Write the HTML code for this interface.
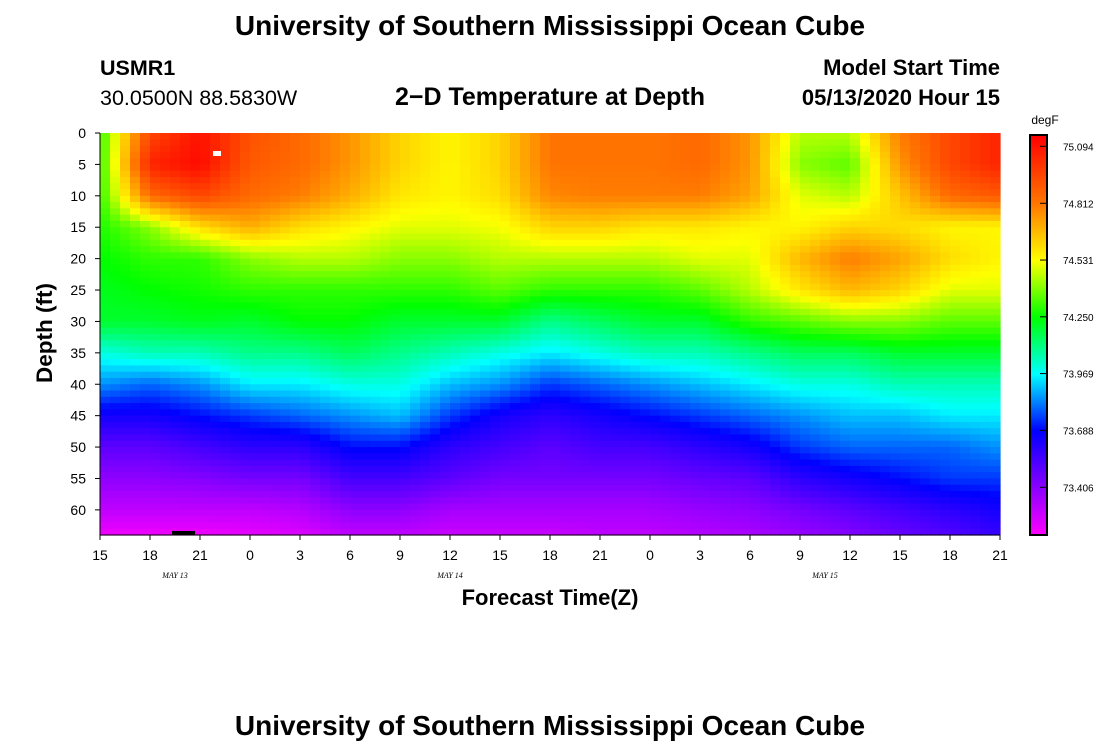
<!DOCTYPE html>
<html><head><meta charset="utf-8"><style>
body{margin:0;background:#fff;width:1100px;height:750px;overflow:hidden;font-family:"Liberation Sans",sans-serif}
</style></head><body>
<svg id="c" width="1100" height="750" xmlns="http://www.w3.org/2000/svg" font-family="Liberation Sans, sans-serif">
<text x="550" y="35" text-anchor="middle" font-size="28" font-weight="bold">University of Southern Mississippi Ocean Cube</text>
<text x="100" y="75" font-size="21.5" font-weight="bold">USMR1</text>
<text x="100" y="105" font-size="21.5">30.0500N 88.5830W</text>
<text x="550" y="105" text-anchor="middle" font-size="25" font-weight="bold">2−D Temperature at Depth</text>
<text x="1000" y="75" text-anchor="end" font-size="22" font-weight="bold">Model Start Time</text>
<text x="1000" y="105" text-anchor="end" font-size="22" font-weight="bold">05/13/2020 Hour 15</text>
<text transform="translate(52,333) rotate(-90)" text-anchor="middle" font-size="22.5" font-weight="bold">Depth (ft)</text>
<text x="550" y="605" text-anchor="middle" font-size="22" font-weight="bold">Forecast Time(Z)</text>
<text x="550" y="735" text-anchor="middle" font-size="28" font-weight="bold">University of Southern Mississippi Ocean Cube</text>
<text x="1045" y="124" text-anchor="middle" font-size="12">degF</text>
<g id="heat"></g>
<g id="axes"></g>
<g id="cbar"></g>
</svg>
<script>
const hours=[0,3,6,9,12,15,18,21,24,27,30,33,36,39,42,45,48,51,54];
const xTickLabels=["15","18","21","0","3","6","9","12","15","18","21","0","3","6","9","12","15","18","21"];
const depths=[0,5,10,15,20,25,30,35,40,45,50,55,60,64];
const yTickLabels=["0","5","10","15","20","25","30","35","40","45","50","55","60"];
const cbarLabels=["75.094","74.812","74.531","74.250","73.969","73.688","73.406"];
const cbarValues=[75.094,74.812,74.531,74.250,73.969,73.688,73.406];
// temperature (degF): one array per forecast hour column, values by depth
const t00=[74.30,74.30,74.30,74.28,74.25,74.22,74.20,74.00,73.85,73.65,73.50,73.40,73.30,73.20];
const t03=[74.95,75.05,74.85,74.40,74.30,74.25,74.20,74.05,73.80,73.65,73.50,73.40,73.30,73.20];
const t06=[75.10,75.12,74.95,74.60,74.30,74.27,74.22,74.05,73.85,73.70,73.55,73.42,73.30,73.20];
const t09=[74.92,74.90,74.85,74.70,74.40,74.30,74.20,74.10,73.95,73.75,73.60,73.45,73.30,73.22];
const t12=[74.85,74.85,74.80,74.60,74.45,74.30,74.25,74.10,73.95,73.80,73.60,73.45,73.32,73.24];
const t15=[74.75,74.75,74.70,74.55,74.45,74.30,74.25,74.15,74.00,73.85,73.70,73.55,73.40,73.30];
const t18=[74.62,74.62,74.58,74.50,74.40,74.30,74.20,74.10,74.00,73.90,73.70,73.55,73.40,73.30];
const t21=[74.55,74.55,74.55,74.50,74.40,74.30,74.20,74.05,73.90,73.75,73.60,73.50,73.35,73.28];
const t24=[74.62,74.62,74.60,74.52,74.45,74.35,74.20,74.00,73.85,73.65,73.55,73.45,73.35,73.28];
const t27=[74.82,74.82,74.78,74.62,74.45,74.30,74.10,73.95,73.75,73.60,73.50,73.45,73.35,73.28];
const t30=[74.82,74.82,74.80,74.62,74.45,74.30,74.15,74.00,73.80,73.65,73.55,73.45,73.35,73.30];
const t33=[74.82,74.82,74.80,74.58,74.45,74.30,74.20,74.05,73.85,73.70,73.55,73.45,73.35,73.30];
const t36=[74.85,74.85,74.80,74.58,74.50,74.35,74.20,74.05,73.90,73.75,73.60,73.48,73.38,73.32];
const t39=[74.75,74.75,74.72,74.55,74.50,74.45,74.30,74.10,73.95,73.80,73.65,73.50,73.40,73.34];
const t42=[74.45,74.40,74.50,74.55,74.68,74.58,74.35,74.15,74.00,73.85,73.75,73.60,73.45,73.38];
const t45=[74.45,74.35,74.45,74.62,74.80,74.68,74.40,74.15,74.00,73.90,73.80,73.65,73.50,73.42];
const t48=[74.80,74.75,74.65,74.60,74.72,74.62,74.40,74.20,74.05,73.90,73.80,73.70,73.55,73.48];
const t51=[74.95,74.95,74.85,74.55,74.60,74.50,74.35,74.20,74.05,73.95,73.80,73.75,73.60,73.52];
const t54=[75.05,75.05,74.90,74.55,74.55,74.50,74.35,74.20,74.05,73.95,73.85,73.75,73.65,73.58];
const temps=[t00,t03,t06,t09,t12,t15,t18,t21,t24,t27,t30,t33,t36,t39,t42,t45,t48,t51,t54];

const NS="http://www.w3.org/2000/svg";
const X0=100,X1=1000,Y0=133,Y1=535;
const xs=h=>X0+(h-hours[0])/(hours[hours.length-1]-hours[0])*(X1-X0);
const ys=d=>Y0+d/64*(Y1-Y0);
const vMin=73.17,vMax=75.15;
const cy=v=>535-(v-vMin)/(vMax-vMin)*400;
const anchorsV=[73.17,73.688,73.969,74.25,74.531,74.812,75.15];
const anchorsH=[300,240,180,120,60,28,0];
function color(v){
  if(v<=anchorsV[0])return "hsl(300,100%,50%)";
  for(let i=0;i<anchorsV.length-1;i++){
    if(v<=anchorsV[i+1]){const f=(v-anchorsV[i])/(anchorsV[i+1]-anchorsV[i]);
      return "hsl("+(anchorsH[i]+f*(anchorsH[i+1]-anchorsH[i])).toFixed(1)+",100%,50%)";}
  }
  return "hsl(0,100%,50%)";
}
function idx(arr,v){for(let i=0;i<arr.length-1;i++)if(v<=arr[i+1])return i;return arr.length-2;}
function sample(h,d){
  const i=idx(hours,h),j=idx(depths,d);
  const fx=(h-hours[i])/(hours[i+1]-hours[i]),fy=(d-depths[j])/(depths[j+1]-depths[j]);
  const a=temps[i][j],b=temps[i+1][j],c=temps[i][j+1],e=temps[i+1][j+1];
  return a*(1-fx)*(1-fy)+b*fx*(1-fy)+c*(1-fx)*fy+e*fx*fy;
}
const heat=document.getElementById('heat');
const NX=90,NY=64;
for(let a=0;a<NX;a++){
  const h0=hours[0]+(hours[hours.length-1]-hours[0])*a/NX, h1=hours[0]+(hours[hours.length-1]-hours[0])*(a+1)/NX;
  for(let b=0;b<NY;b++){
    const d0=64*b/NY,d1=64*(b+1)/NY;
    const r=document.createElementNS(NS,'rect');
    
    
    r.setAttribute('x',xs(h0).toFixed(2));r.setAttribute('y',ys(d0).toFixed(2));
    r.setAttribute('width',(xs(h1)-xs(h0)+0.6).toFixed(2));r.setAttribute('height',(ys(d1)-ys(d0)+0.6).toFixed(2));
    r.setAttribute('fill',color(sample((h0+h1)/2,(d0+d1)/2)));
    heat.appendChild(r);
  }
}
const axes=document.getElementById('axes');
function el(tag,attrs,parent,text){const e=document.createElementNS(NS,tag);for(const k in attrs)e.setAttribute(k,attrs[k]);if(text!==undefined)e.textContent=text;parent.appendChild(e);return e;}
const m1=el('rect',{x:213,y:151,width:8,height:5,fill:'#fff'},axes);


const m2=el('rect',{x:172,y:531,width:23,height:4,fill:'#000'},axes);


el('line',{x1:X0,y1:Y0,x2:X0,y2:Y1,stroke:'#000','stroke-width':1},axes);
el('line',{x1:X0,y1:Y1,x2:X1,y2:Y1,stroke:'#000','stroke-width':1},axes);
hours.forEach((h,i)=>{
  el('line',{x1:xs(h),y1:Y1,x2:xs(h),y2:Y1+5,stroke:'#000'},axes);
  const t=el('text',{x:xs(h),y:560,'text-anchor':'middle','font-size':14},axes,xTickLabels[i]);
  
  
});
yTickLabels.forEach(l=>{
  const d=+l;
  el('line',{x1:X0-5,y1:ys(d),x2:X0,y2:ys(d),stroke:'#000'},axes);
  const t=el('text',{x:86,y:ys(d)+5,'text-anchor':'end','font-size':14},axes,l);
  
  
});
[["MAY 13",175],["MAY 14",450],["MAY 15",825]].forEach(([s,x])=>{
  const t=el('text',{x:x,y:578,'text-anchor':'middle','font-size':8,'font-style':'italic','font-family':'Liberation Serif, serif'},axes,s);
  
  
});
const cb=document.getElementById('cbar');
for(let k=0;k<200;k++){
  const v=vMin+(vMax-vMin)*(k+0.5)/200;
  el('rect',{x:1030,y:(535-(k+1)*2).toFixed(1),width:17,height:2.6,fill:color(v)},cb);
}
el('rect',{x:1030,y:135,width:17,height:400,fill:'none',stroke:'#000','stroke-width':2},cb);
cbarValues.forEach((v,i)=>{
  el('line',{x1:1040,y1:cy(v),x2:1047,y2:cy(v),stroke:'#000'},cb);
  const t=el('text',{x:1063,y:cy(v)+4,'font-size':10},cb,cbarLabels[i]);
  
  
});
</script>
</body></html>
